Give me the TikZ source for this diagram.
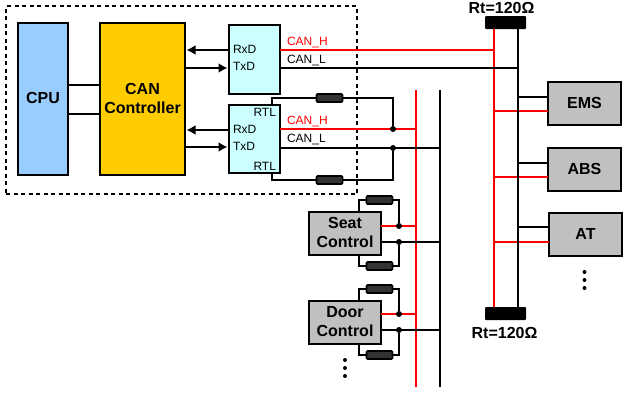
\documentclass[tikz,border=0pt]{standalone}
\usepackage{fontspec}
\setmainfont{Liberation Sans}
\usetikzlibrary{arrows.meta}
\definecolor{cpublue}{HTML}{99CCFF}
\definecolor{cangold}{HTML}{FFCC00}
\definecolor{xcvr}{HTML}{CCFFFF}
\definecolor{ecu}{HTML}{C0C0C0}
\definecolor{res}{HTML}{333333}
\definecolor{bred}{HTML}{FF0000}
\tikzset{
  boxn/.style={draw=black,line width=2pt,inner sep=0pt,outer sep=0pt,align=center,text depth=2pt,font=\fontsize{16}{19}\selectfont\bfseries,text=black},
  wire/.style={line width=2pt,draw=black},
  thinwire/.style={line width=2pt,draw=black},
  redwire/.style={line width=2pt,draw=bred},
  arr/.style={wire,-{Latex[length=9pt,width=10pt]},shorten >=1.5pt},
  resistor/.style={draw=black,fill=res,line width=1.6pt,rounded corners=1pt,minimum width=26pt,minimum height=8pt,inner sep=0pt,outer sep=0pt},
  term/.style={fill=black,draw=none,rounded corners=1pt,minimum width=41pt,minimum height=13pt,inner sep=0pt,outer sep=0pt},
  junction/.style={circle,fill=black,minimum size=6pt,inner sep=0pt,outer sep=0pt},
  dotn/.style={circle,fill=black,minimum size=4pt,inner sep=0pt,outer sep=0pt},
  small/.style={font=\fontsize{12}{12}\selectfont,inner sep=0pt,outer sep=0pt},
  rtlabel/.style={font=\fontsize{16}{16}\selectfont\bfseries,inner sep=0pt,outer sep=0pt},
  nw/.style={anchor=north west}
}
\begin{document}
\begin{tikzpicture}[x=1pt,y=-1pt]
\useasboundingbox (0,0) rectangle (628,400);
% frame
\node[draw=black,line width=2pt,dash pattern=on 4pt off 3.5pt,minimum width=351pt,minimum height=188pt,inner sep=0pt,nw] (frame) at (5,5) {};
% boxes
\node[boxn,fill=cpublue,minimum width=50pt,minimum height=152pt,nw] (cpu) at (18,23) {CPU};
\node[boxn,fill=cangold,minimum width=85pt,minimum height=152pt,nw] (can) at (100,23) {CAN\\Controller};
\node[boxn,fill=xcvr,minimum width=50.5pt,minimum height=69pt,nw] (t1) at (229,25) {};
\node[boxn,fill=xcvr,minimum width=50.5pt,minimum height=68pt,nw] (t2) at (229,105) {};
\node[boxn,fill=ecu,minimum width=72pt,minimum height=43pt,nw] (seat) at (309,212) {Seat\\Control};
\node[boxn,fill=ecu,minimum width=72pt,minimum height=43pt,nw] (door) at (309,301) {Door\\Control};
\node[boxn,fill=ecu,minimum width=73pt,minimum height=43pt,nw] (ems) at (548,82) {EMS};
\node[boxn,fill=ecu,minimum width=73pt,minimum height=43pt,nw] (abs) at (548,148) {ABS};
\node[boxn,fill=ecu,minimum width=73pt,minimum height=43pt,nw] (at) at (549,213) {AT};
% terminators
\node[term,nw] (rtop) at (485,16) {};
\node[term,nw] (rbot) at (485,307) {};
\node[rtlabel] (rtt) at (501.5,7.5) {Rt=120Ω};
\node[rtlabel] (rtb) at (504.5,333) {Rt=120Ω};
% bus coordinates
\coordinate (bh) at (494,29);
\coordinate (bl) at (518,29);
\coordinate (ch) at (416,90);
\coordinate (cl) at (440,90);
\coordinate (chb) at (416,387);
\coordinate (clb) at (440,387);
% CPU-CAN
\draw[wire] (cpu.east |- 0,85) -- (can.west |- 0,85);
\draw[wire] (cpu.east |- 0,114) -- (can.west |- 0,114);
% RxD/TxD
\draw[arr] (t1.west |- 0,50) -- (can.east |- 0,50);
\draw[arr] (can.east |- 0,68) -- (t1.west |- 0,68);
\draw[arr] (t2.west |- 0,130) -- (can.east |- 0,130);
\draw[arr] (can.east |- 0,147) -- (t2.west |- 0,147);
% red conductors (under the black ones)
\draw[redwire] (t1.east |- 0,50) -- (bh |- 0,50);
\draw[redwire] (bh |- rtop.south) -- (bh |- rbot.north);
\draw[redwire] (bh |- 0,111) -- (ems.west |- 0,111);
\draw[redwire] (bh |- 0,177) -- (abs.west |- 0,177);
\draw[redwire] (bh |- 0,242) -- (at.west |- 0,242);
\draw[redwire] (ch) -- (chb);
\draw[redwire] (t2.east |- 0,129) -- (ch |- 0,129);
\draw[redwire] (seat.east |- 0,226) -- (ch |- 0,226);
\draw[redwire] (door.east |- 0,314) -- (ch |- 0,314);
% black conductors
\draw[wire] (t1.east |- 0,68) -- (bl |- 0,68);
\draw[wire] (bl |- rtop.south) -- (bl |- rbot.north);
\draw[wire] (bl |- 0,97) -- (ems.west |- 0,97);
\draw[wire] (bl |- 0,163) -- (abs.west |- 0,163);
\draw[wire] (bl |- 0,227) -- (at.west |- 0,227);
\draw[wire] (cl) -- (clb);
\draw[wire] (t2.east |- 0,148) -- (cl |- 0,148);
\draw[wire] (seat.east |- 0,242) -- (cl |- 0,242);
\draw[wire] (door.east |- 0,330) -- (cl |- 0,330);
% junctions
\node[junction] (j1) at (393,129) {};
\node[junction] (j2) at (393,148) {};
\node[junction] (j3) at (399,226) {};
\node[junction] (j4) at (399,242) {};
\node[junction] (j5) at (399,314) {};
\node[junction] (j6) at (399,330) {};
% resistors
\node[resistor] (r1) at (329.5,98) {};
\node[resistor] (r2) at (329.5,180) {};
\node[resistor] (r3) at (379.5,200) {};
\node[resistor] (r4) at (379.5,266) {};
\node[resistor] (r5) at (379.5,289) {};
\node[resistor] (r6) at (379.5,355) {};
\draw[thinwire] (272,105) |- (r1.west);
\draw[thinwire] (r1.east) -| (j1.north);
\draw[thinwire] (272,173) |- (r2.west);
\draw[thinwire] (r2.east) -| (j2.south);
\draw[thinwire] (359,212) |- (r3.west);
\draw[thinwire] (r3.east) -| (j3.north);
\draw[thinwire] (359,255) |- (r4.west);
\draw[thinwire] (r4.east) -| (j4.south);
\draw[thinwire] (359,301) |- (r5.west);
\draw[thinwire] (r5.east) -| (j5.north);
\draw[thinwire] (359,344) |- (r6.west);
\draw[thinwire] (r6.east) -| (j6.south);
% the red stub runs between each pair of junctions' wires only
% labels
\node[small,anchor=west] (l1) at (233,49) {RxD};
\node[small,anchor=west] (l2) at (233,66) {TxD};
\node[small,anchor=west] (l3) at (233,129) {RxD};
\node[small,anchor=west] (l4) at (233,146) {TxD};
\node[small,anchor=east] (l5) at (276,112) {RTL};
\node[small,anchor=east] (l6) at (276,166) {RTL};
\node[small,anchor=west,text=bred] (l7) at (287,42) {CAN\_H};
\node[small,anchor=west] (l8) at (287,60.5) {CAN\_L};
\node[small,anchor=west,text=bred] (l9) at (287,121) {CAN\_H};
\node[small,anchor=west] (l10) at (287,139.5) {CAN\_L};
% ellipses
\node[dotn] (d1) at (345,360) {};
\node[dotn] (d2) at (345,368) {};
\node[dotn] (d3) at (345,376) {};
\node[dotn] (d4) at (584.5,272) {};
\node[dotn] (d5) at (584.5,280) {};
\node[dotn] (d6) at (584.5,288) {};
\end{tikzpicture}
\end{document}
